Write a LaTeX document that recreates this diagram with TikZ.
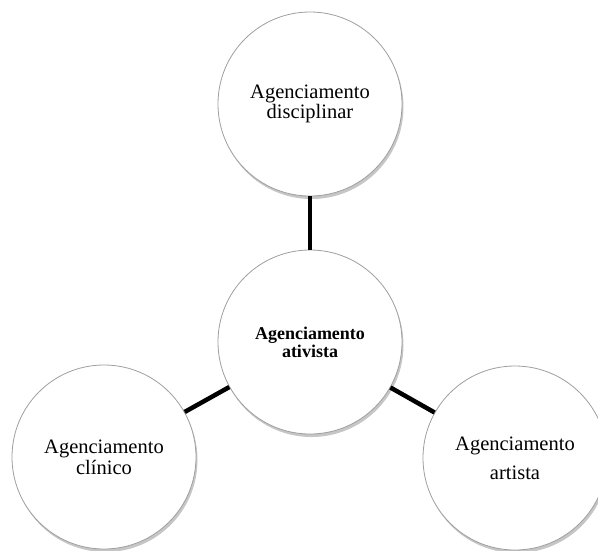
\documentclass[tikz,border=0pt]{standalone}
\usepackage{fontspec}
\setmainfont{Liberation Serif}
\usetikzlibrary{positioning, shadows}

\begin{document}
\begin{tikzpicture}[
      x=1pt, y=1pt,
      on grid,
      bubble/.style={circle, draw=gray!75, line width=0.8pt, fill=white, minimum size=184pt, inner sep=0pt, align=center,
        drop shadow={shadow xshift=1.5pt, shadow yshift=-3pt, opacity=0.45, fill=gray}},
      link/.style={line width=4.5pt, black}
    ]
    \useasboundingbox (0,0) rectangle (598,-550);
    \node[bubble, font=\bfseries\fontsize{18}{18}\selectfont] (ativista) at (310,-342) {Agenciamento\\ativista};
    \node[bubble, above=238pt of ativista, font=\fontsize{20.5}{19.5}\selectfont] (disciplinar) {Agenciamento\\disciplinar};
    \node[bubble, below left=115pt and 206pt of ativista, font=\fontsize{20.5}{21}\selectfont] (clinico) {Agenciamento\\clínico};
    \node[bubble, below right=116pt and 205pt of ativista, font=\fontsize{20.5}{29}\selectfont] (artista) {Agenciamento\\artista};

    \draw[link] (ativista) -- (disciplinar);
    \draw[link] (ativista) -- (clinico);
    \draw[link] (ativista) -- (artista);
  \end{tikzpicture}
\end{document}
